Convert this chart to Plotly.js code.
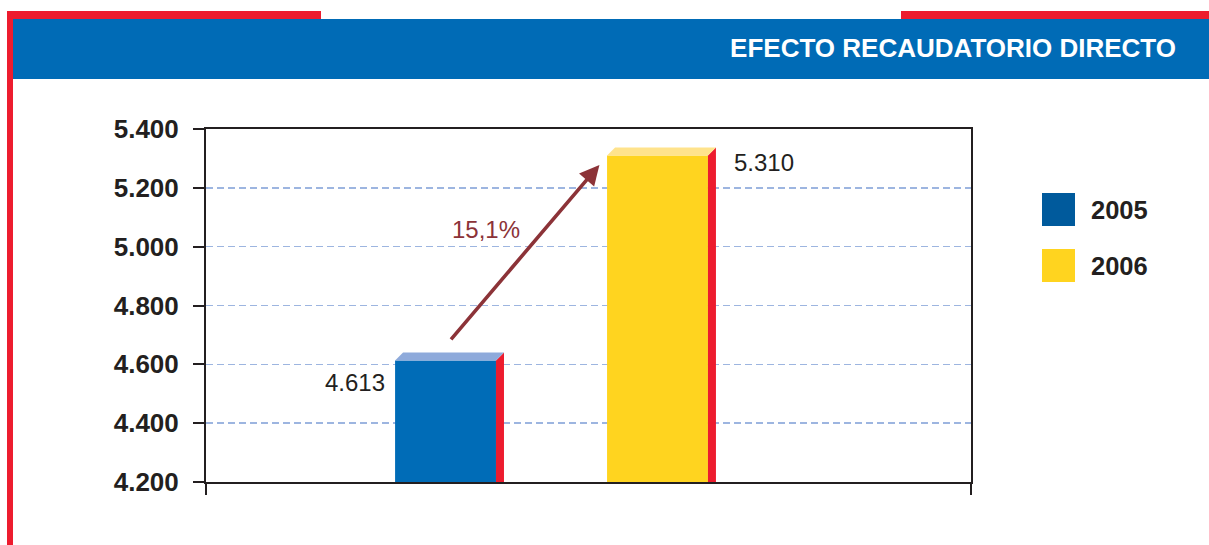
<!DOCTYPE html>
<html>
<head>
<meta charset="utf-8">
<script src="https://cdn.plot.ly/plotly-3.0.1.min.js"></script>
<style>
  html, body { margin: 0; padding: 0; background: #ffffff; }
  #chart { width: 1209px; height: 545px; }
</style>
</head>
<body>
<div id="chart"></div>
<script>
// ---------- data ----------
const years = ['2005', '2006'];
const values = [4613, 5310];
const yTickValues = [4200, 4400, 4600, 4800, 5000, 5200, 5400];
const titleText = 'EFECTO RECAUDATORIO DIRECTO';

// ---------- styles ----------
const frontColors = ['#006cb7', '#ffd41f'];
const topColors = ['#8eaadb', '#ffe38c'];
const legendColors = ['#005a9c', '#ffd41f'];
const sideColor = '#ed1c2e';
const headerBlue = '#006bb6';
const arrowColor = '#8c3338';
const textColor = '#231f20';
const FONT = 'Liberation Sans, Arial, Helvetica, sans-serif';

const W = 1209, H = 545;
const M = { l: 206, r: 238, t: 129, b: 63 };
const plotW = W - M.l - M.r, plotH = H - M.t - M.b;
const px2x = px => (px - M.l) / plotW;
const py2y = py => (H - M.b - py) / plotH;

const positions = years.map((_, i) => i);
const BAR_W = 0.476;
const xRange = [-1.13, 2.479];
const yRange = [yTickValues[0], yTickValues[yTickValues.length - 1]];
// depth of the 3D effect (about 8px in both directions)
const DX = 8 * (xRange[1] - xRange[0]) / plotW;
const DY = 8 * (yRange[1] - yRange[0]) / plotH;

function fmt(v) {
  return String(Math.round(v)).replace(/\B(?=(\d{3})+(?!\d))/g, '.');
}
const pct = ((values[1] / values[0] - 1) * 100).toFixed(1).replace('.', ',') + '%';

// ---------- traces ----------
const traces = [{
  type: 'bar',
  x: positions,
  y: values,
  width: BAR_W,
  marker: { color: frontColors, line: { width: 0 } },
  hoverinfo: 'skip',
  showlegend: false
}];

// ---------- shapes ----------
const shapes = [];
// header band and red frame
shapes.push({ type: 'rect', xref: 'paper', yref: 'paper', x0: px2x(7), x1: px2x(13), y0: py2y(545), y1: py2y(11), fillcolor: sideColor, line: { width: 0 } });
shapes.push({ type: 'rect', xref: 'paper', yref: 'paper', x0: px2x(7), x1: px2x(321), y0: py2y(19), y1: py2y(11), fillcolor: sideColor, line: { width: 0 } });
shapes.push({ type: 'rect', xref: 'paper', yref: 'paper', x0: px2x(901), x1: px2x(1209), y0: py2y(19), y1: py2y(11), fillcolor: sideColor, line: { width: 0 } });
shapes.push({ type: 'rect', xref: 'paper', yref: 'paper', x0: px2x(13), x1: px2x(1209), y0: py2y(79), y1: py2y(19), fillcolor: headerBlue, line: { width: 0 } });

// 3D faces of the bars, derived from the data
positions.forEach((p, i) => {
  const v = values[i];
  const xl = p - BAR_W / 2, xr = p + BAR_W / 2;
  shapes.push({
    type: 'path', xref: 'x', yref: 'y',
    path: `M${xr},${yRange[0]} L${xr},${v} L${xr + DX},${v + DY} L${xr + DX},${yRange[0]} Z`,
    fillcolor: sideColor, line: { width: 0 }
  });
  shapes.push({
    type: 'path', xref: 'x', yref: 'y',
    path: `M${xl},${v} L${xr},${v} L${xr + DX},${v + DY} L${xl + DX},${v + DY} Z`,
    fillcolor: topColors[i], line: { width: 0 }
  });
});

// custom legend swatches
const legendRowsY = [193, 249];
years.forEach((y, i) => {
  shapes.push({
    type: 'rect', xref: 'paper', yref: 'paper',
    x0: px2x(1042), x1: px2x(1075), y0: py2y(legendRowsY[i] + 33), y1: py2y(legendRowsY[i]),
    fillcolor: legendColors[i], line: { width: 0 }
  });
});

// ---------- annotations ----------
const annotations = [];
// data labels
annotations.push({
  x: positions[0] - BAR_W / 2, y: values[0], xref: 'x', yref: 'y',
  text: fmt(values[0]), showarrow: false, xanchor: 'right', yanchor: 'middle',
  xshift: -8, yshift: -22, font: { family: FONT, size: 24, color: textColor }
});
annotations.push({
  x: positions[1] + BAR_W / 2, y: values[1], xref: 'x', yref: 'y',
  text: fmt(values[1]), showarrow: false, xanchor: 'left', yanchor: 'middle',
  xshift: 24, yshift: -7, font: { family: FONT, size: 24, color: textColor }
});
// growth arrow
const aTail = { x: positions[0] + 0.02, y: values[0] + 67 };
const aHead = { x: positions[1] - BAR_W / 2 - 0.036, y: values[1] - 32 };
annotations.push({
  x: aHead.x, y: aHead.y, ax: aTail.x, ay: aTail.y,
  xref: 'x', yref: 'y', axref: 'x', ayref: 'y',
  text: '', showarrow: true, arrowhead: 2, arrowsize: 1.1, arrowwidth: 3.6,
  arrowcolor: arrowColor, standoff: 0, startstandoff: 0
});
annotations.push({
  x: (aTail.x + aHead.x) / 2, y: (aTail.y + aHead.y) / 2, xref: 'x', yref: 'y',
  text: pct, showarrow: false, xanchor: 'center', yanchor: 'middle',
  xshift: -39, yshift: 23, font: { family: FONT, size: 24, color: arrowColor }
});
// legend labels
years.forEach((y, i) => {
  annotations.push({
    xref: 'paper', yref: 'paper', x: px2x(1089), y: py2y(legendRowsY[i] + 16.5),
    text: y, showarrow: false, xanchor: 'left', yanchor: 'middle',
    font: { family: FONT, size: 25.5, color: textColor, weight: 'bold' }
  });
});

// ---------- layout ----------
const layout = {
  width: W, height: H,
  margin: M,
  paper_bgcolor: '#ffffff',
  plot_bgcolor: '#ffffff',
  separators: ',.',
  showlegend: false,
  font: { family: FONT, color: textColor },
  title: {
    text: titleText,
    xref: 'container', yref: 'container',
    x: 1176 / W, xanchor: 'right',
    y: 1 - 48.3 / H, yanchor: 'middle',
    font: { family: FONT, size: 26, color: '#ffffff', weight: 'bold' }
  },
  xaxis: {
    range: xRange,
    showgrid: false, zeroline: false,
    showline: true, mirror: true, linecolor: textColor, linewidth: 2,
    tickmode: 'array', tickvals: xRange, ticks: 'outside', ticklen: 11, tickwidth: 2, tickcolor: textColor,
    showticklabels: false, fixedrange: true
  },
  yaxis: {
    range: yRange,
    tickmode: 'array', tickvals: yTickValues, tickformat: ',.0f',
    ticks: 'outside', ticklen: 11, tickwidth: 2, tickcolor: textColor,
    ticklabelstandoff: 9,
    tickfont: { family: FONT, size: 26, color: textColor, weight: 'bold' },
    showgrid: true, gridcolor: '#9db5e0', gridwidth: 1.5, griddash: '7px,4px',
    zeroline: false,
    showline: true, mirror: true, linecolor: textColor, linewidth: 2,
    fixedrange: true
  },
  shapes: shapes,
  annotations: annotations
};

Plotly.newPlot('chart', traces, layout, { displayModeBar: false, staticPlot: true });
</script>
</body>
</html>
